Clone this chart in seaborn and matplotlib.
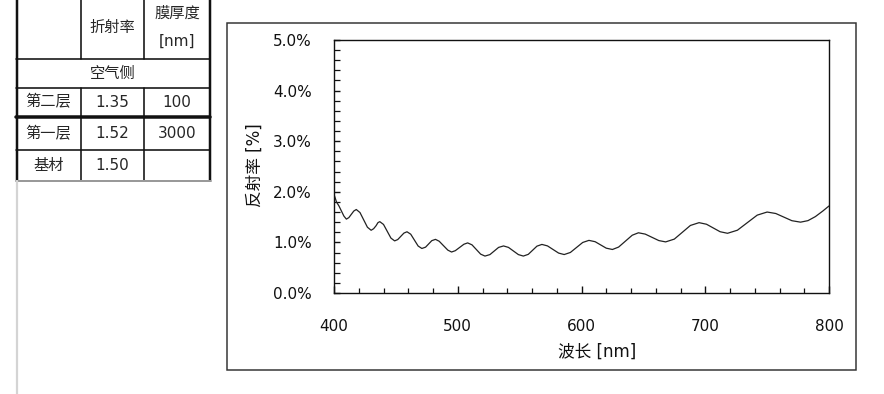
import matplotlib
matplotlib.use("Agg")
import matplotlib.pyplot as plt
import seaborn as sns
import pandas as pd
from matplotlib.ticker import MultipleLocator, PercentFormatter
from matplotlib.patches import Rectangle

# Reflectance curve (wavelength nm, reflectance %)
wavelength = [400, 402, 404, 406, 408, 410, 412, 414, 416, 418,
              421, 424, 427, 430, 432, 434, 435.5, 437,
              440, 443, 446, 449, 451.5, 454, 456.5, 459,
              462, 465, 468, 471, 474, 476.5, 479, 482,
              485, 488.5, 492, 495, 498, 501.5, 505, 508,
              511.5, 515, 518.5, 522, 526, 529.5, 533, 537,
              541, 545, 549, 553, 557, 560.5, 564, 568,
              572.5, 577, 581.5, 586, 591, 596, 601, 606,
              611, 615.5, 620, 625, 630, 635.5, 641, 646,
              651.5, 657, 662.5, 668, 675, 681.5, 688, 695,
              701, 706.5, 712, 718, 726, 734, 742, 750,
              757, 763.5, 770, 777, 783, 789, 795, 800]
reflectance = [1.95, 1.80, 1.72, 1.62, 1.52, 1.46, 1.49, 1.555, 1.62, 1.65,
               1.59, 1.445, 1.30, 1.24, 1.27, 1.33, 1.39, 1.41,
               1.355, 1.22, 1.085, 1.03, 1.056, 1.12, 1.184, 1.21,
               1.162, 1.045, 0.928, 0.88, 0.906, 0.97, 1.034, 1.06,
               1.023, 0.935, 0.847, 0.81, 0.836, 0.90, 0.964, 0.99,
               0.952, 0.86, 0.768, 0.73, 0.759, 0.83, 0.901, 0.93,
               0.901, 0.83, 0.759, 0.73, 0.764, 0.845, 0.926, 0.96,
               0.931, 0.86, 0.789, 0.76, 0.801, 0.90, 0.999, 1.04,
               1.014, 0.95, 0.886, 0.86, 0.908, 1.025, 1.142, 1.19,
               1.164, 1.10, 1.036, 1.01, 1.065, 1.20, 1.335, 1.39,
               1.359, 1.285, 1.211, 1.18, 1.241, 1.39, 1.539, 1.60,
               1.571, 1.50, 1.429, 1.40, 1.43, 1.51, 1.62, 1.72]

# Layer table
header_n = "折射率"
header_d = ["膜厚度", "[nm]"]
top_label = "空气侧"
layer_names = ["第二层", "第一层", "基材"]
layer_n = ["1.35", "1.52", "1.50"]
layer_d = ["100", "3000", ""]

df = pd.DataFrame({"wl": wavelength, "R": reflectance})

sns.set_theme(style="white")
plt.rcParams["font.family"] = ["DejaVu Sans", "Noto Sans CJK SC"]

W, H = 884, 394
fig = plt.figure(figsize=(W / 100, H / 100), dpi=100)
fig.patch.set_facecolor("white")

# background axes in pixel coordinates for the table and frame
bg = fig.add_axes([0, 0, 1, 1])
bg.set_xlim(0, W)
bg.set_ylim(H, 0)
bg.axis("off")
bg.patch.set_alpha(0)

px = 0.72  # points per pixel
k = "#111111"

# table grid
bg.plot([16.5, 16.5], [0, 180], color=k, lw=2.5 * px)
bg.plot([209.5, 209.5], [0, 180], color=k, lw=2.5 * px)
for xv in [81, 144]:
    bg.plot([xv, xv], [0, 59], color=k, lw=1.6 * px)
    bg.plot([xv, xv], [88, 180], color=k, lw=1.6 * px)
for yv, w in [(59, 1.6), (88, 1.6), (117, 3.5), (150, 1.6)]:
    bg.plot([16, 210], [yv, yv], color=k, lw=w * px)
bg.plot([16, 211], [180.5, 180.5], color="#999999", lw=2 * px)
bg.plot([16.5, 16.5], [181, H], color="#d4d4d4", lw=2.2 * px)

tfs = 11
bg.text(112.5, 27, header_n, ha="center", va="center", fontsize=tfs)
bg.text(177, 13, header_d[0], ha="center", va="center", fontsize=tfs)
bg.text(177, 41, header_d[1], ha="center", va="center", fontsize=tfs)
bg.text(113, 73, top_label, ha="center", va="center", fontsize=tfs)
row_y = [102, 133.5, 165]
for yv, name, nv, dv in zip(row_y, layer_names, layer_n, layer_d):
    bg.text(48.5, yv, name, ha="center", va="center", fontsize=tfs)
    bg.text(112.5, yv, nv, ha="center", va="center", fontsize=tfs)
    bg.text(177, yv, dv, ha="center", va="center", fontsize=tfs)

# chart frame
bg.add_patch(Rectangle((227, 23), 629, 347, fill=False, edgecolor="#333333", lw=1.5 * px))

# main chart
ax = fig.add_axes([334 / W, 1 - 293 / H, (829 - 334) / W, (293 - 40) / H])
ax.set_facecolor("white")
sns.lineplot(data=df, x="wl", y="R", ax=ax, color="#222222", lw=0.9)
ax.set_xlim(400, 800)
ax.set_ylim(0, 5)
ax.xaxis.set_major_locator(MultipleLocator(100))
ax.xaxis.set_minor_locator(MultipleLocator(20))
ax.yaxis.set_major_locator(MultipleLocator(1))
ax.yaxis.set_minor_locator(MultipleLocator(0.2))
ax.yaxis.set_major_formatter(PercentFormatter(xmax=100, decimals=1))
for s in ax.spines.values():
    s.set_visible(True)
    s.set_color("#111111")
    s.set_linewidth(1.0)
ax.tick_params(axis="x", which="major", direction="in", length=5, width=1,
               color="#111111", labelsize=11, pad=19, labelcolor="#111111",
               top=False, bottom=True)
ax.tick_params(axis="x", which="minor", direction="in", length=3.5, width=0.9,
               color="#111111", bottom=True)
ax.tick_params(axis="y", which="major", direction="in", length=4.3, width=1,
               color="#111111", labelsize=11, pad=16, labelcolor="#111111",
               left=True, right=False)
ax.tick_params(axis="y", which="minor", direction="in", length=4.3, width=0.9,
               color="#111111", left=True)
ax.set_xlabel("波长 [nm]", fontsize=12, color="#111111")
ax.xaxis.set_label_coords(263 / 495, -0.195)
ax.set_ylabel("反射率 [%]", fontsize=12, color="#111111", va="center")
ax.yaxis.set_label_coords(-0.16, 0.505)
ax.grid(False)

fig.savefig("out.png", dpi=100)
plt.close(fig)
